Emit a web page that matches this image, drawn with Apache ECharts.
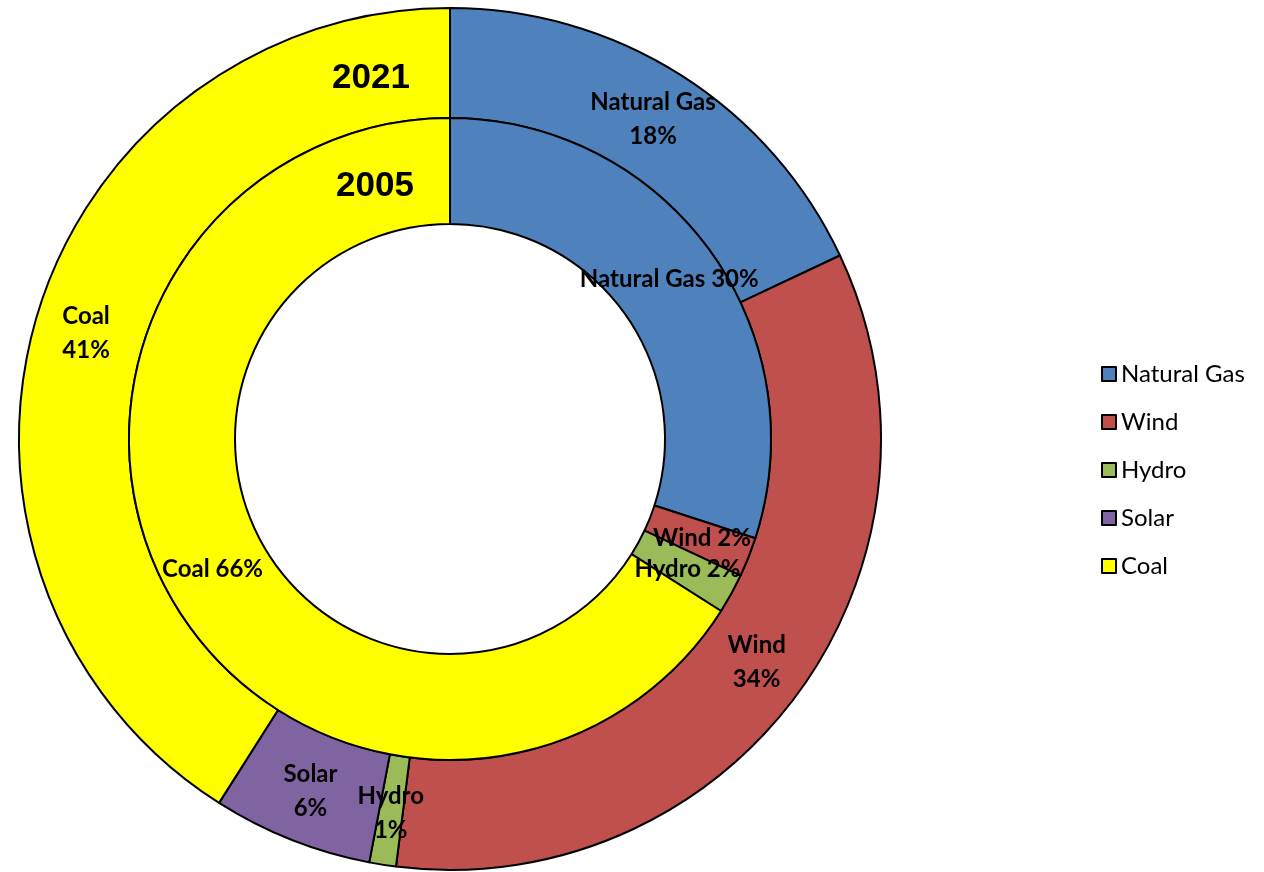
<!DOCTYPE html>
<html>
<head>
<meta charset="utf-8">
<style>
  html, body { margin: 0; padding: 0; background: #ffffff; }
  #chart { width: 1264px; height: 872px; }
</style>
<script src="https://cdn.jsdelivr.net/npm/echarts@6/dist/echarts.min.js"></script>
</head>
<body>
<div id="chart"></div>
<script>
// Electricity generation mix, two rings: 2021 (outer) and 2005 (inner)
const sources = ['Natural Gas', 'Wind', 'Hydro', 'Solar', 'Coal'];
const colors = ['#4F81BD', '#C0504D', '#9BBB59', '#8064A2', '#FFFF00'];
const share2021 = [18, 34, 1, 6, 41];
const share2005 = [30, 2, 2, 0, 66];
const ringYears = ['2021', '2005'];

const labelFont = 'Lato, "Open Sans", sans-serif';

function ringData(values) {
  return sources
    .map((name, i) => ({ name, value: values[i], itemStyle: { color: colors[i] } }))
    .filter(d => d.value > 0);
}

const chart = echarts.init(document.getElementById('chart'));

const cx = 450, cy = 439;

chart.setOption({
  animation: false,
  backgroundColor: '#ffffff',
  legend: {
    orient: 'vertical',
    left: 1096,
    top: 357,
    data: sources,
    icon: 'rect',
    itemWidth: 14,
    itemHeight: 14,
    itemGap: 24,
    textStyle: { fontFamily: labelFont, fontSize: 24, color: '#000' },
    selectedMode: false
  },
  graphic: [
    {
      type: 'text', left: cx - 118, top: 61, z: 100,
      style: { text: ringYears[0], font: 'bold 35px "Liberation Sans", Arial, sans-serif', fill: '#000' }
    },
    {
      type: 'text', left: cx - 114, top: 169, z: 100,
      style: { text: ringYears[1], font: 'bold 35px "Liberation Sans", Arial, sans-serif', fill: '#000' }
    }
  ],
  series: [
    {
      name: ringYears[0],
      type: 'pie',
      center: [cx, cy],
      radius: [321, 431],
      startAngle: 90,
      clockwise: true,
      avoidLabelOverlap: false,
      z: 2,
      itemStyle: { borderColor: '#000', borderWidth: 2 },
      label: {
        position: 'inside',
        formatter: p => p.name + '\n' + p.value + '%',
        fontFamily: labelFont,
        fontWeight: 'bold',
        fontSize: 24,
        lineHeight: 34,
        color: '#000'
      },
      labelLine: { show: false },
      emphasis: { disabled: true },
      data: ringData(share2021)
    },
    {
      name: ringYears[1],
      type: 'pie',
      center: [cx, cy],
      radius: [215, 321],
      startAngle: 90,
      clockwise: true,
      avoidLabelOverlap: false,
      z: 3,
      itemStyle: { borderColor: '#000', borderWidth: 2 },
      label: {
        position: 'inside',
        formatter: p => p.name + ' ' + p.value + '%',
        fontFamily: labelFont,
        fontWeight: 'bold',
        fontSize: 24,
        color: '#000'
      },
      labelLine: { show: false },
      emphasis: { disabled: true },
      data: ringData(share2005)
    }
  ]
});
</script>
</body>
</html>
